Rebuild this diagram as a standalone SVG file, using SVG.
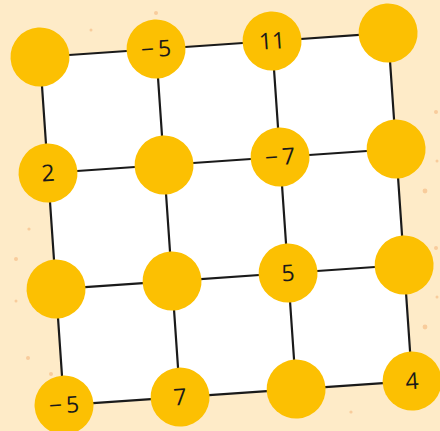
<svg xmlns="http://www.w3.org/2000/svg" width="440" height="431" viewBox="0 0 440 431">
<style>
.bg{fill:#FEEBC8}
.dot{fill:#F8CC9C}
.edge{stroke:#1A1A1A;stroke-width:2.2;stroke-linecap:round}
.node circle{fill:#FCC002}
.node text{font-family:"Open Sans","Noto Sans",sans-serif;font-size:23px;fill:#1A1A1A;text-anchor:middle}
</style>
<rect class="bg" x="0" y="0" width="440" height="431"/>
<g id="speckles">
<circle class="dot" cx="156" cy="13" r="2"/>
<circle class="dot" cx="91" cy="30" r="1.5"/>
<circle class="dot" cx="29" cy="229" r="1.6"/>
<circle class="dot" cx="16" cy="259" r="2"/>
<circle class="dot" cx="16" cy="301" r="1.5"/>
<circle class="dot" cx="28" cy="358" r="2"/>
<circle class="dot" cx="51" cy="374" r="2"/>
<circle class="dot" cx="436" cy="112" r="2"/>
<circle class="dot" cx="437" cy="161" r="1.5"/>
<circle class="dot" cx="425" cy="191" r="2.4"/>
<circle class="dot" cx="436" cy="248" r="2"/>
<circle class="dot" cx="437" cy="297" r="1.5"/>
<circle class="dot" cx="425" cy="327" r="2.4"/>
<circle class="dot" cx="351" cy="412" r="1.6"/>
</g>
<g transform="rotate(-3.95 40 57)">
<rect x="40" y="57" width="348.9" height="348.9" fill="#FFFFFF"/>
<g id="connectors">
<line class="edge" x1="40" y1="57" x2="156.3" y2="57"/>
<line class="edge" x1="156.3" y1="57" x2="272.6" y2="57"/>
<line class="edge" x1="272.6" y1="57" x2="388.9" y2="57"/>
<line class="edge" x1="40" y1="173.3" x2="156.3" y2="173.3"/>
<line class="edge" x1="156.3" y1="173.3" x2="272.6" y2="173.3"/>
<line class="edge" x1="272.6" y1="173.3" x2="388.9" y2="173.3"/>
<line class="edge" x1="40" y1="289.6" x2="156.3" y2="289.6"/>
<line class="edge" x1="156.3" y1="289.6" x2="272.6" y2="289.6"/>
<line class="edge" x1="272.6" y1="289.6" x2="388.9" y2="289.6"/>
<line class="edge" x1="40" y1="405.9" x2="156.3" y2="405.9"/>
<line class="edge" x1="156.3" y1="405.9" x2="272.6" y2="405.9"/>
<line class="edge" x1="272.6" y1="405.9" x2="388.9" y2="405.9"/>
<line class="edge" x1="40" y1="57" x2="40" y2="173.3"/>
<line class="edge" x1="40" y1="173.3" x2="40" y2="289.6"/>
<line class="edge" x1="40" y1="289.6" x2="40" y2="405.9"/>
<line class="edge" x1="156.3" y1="57" x2="156.3" y2="173.3"/>
<line class="edge" x1="156.3" y1="173.3" x2="156.3" y2="289.6"/>
<line class="edge" x1="156.3" y1="289.6" x2="156.3" y2="405.9"/>
<line class="edge" x1="272.6" y1="57" x2="272.6" y2="173.3"/>
<line class="edge" x1="272.6" y1="173.3" x2="272.6" y2="289.6"/>
<line class="edge" x1="272.6" y1="289.6" x2="272.6" y2="405.9"/>
<line class="edge" x1="388.9" y1="57" x2="388.9" y2="173.3"/>
<line class="edge" x1="388.9" y1="173.3" x2="388.9" y2="289.6"/>
<line class="edge" x1="388.9" y1="289.6" x2="388.9" y2="405.9"/>
</g>
<g id="n00" class="node"><circle cx="40" cy="57" r="29.5"/></g>
<g id="n01" class="node"><circle cx="156.3" cy="57" r="29.5"/><text x="156.3" y="65">−<tspan dx="4">5</tspan></text></g>
<g id="n02" class="node"><circle cx="272.6" cy="57" r="29.5"/><text x="272.6" y="65">11</text></g>
<g id="n03" class="node"><circle cx="388.9" cy="57" r="29.5"/></g>
<g id="n10" class="node"><circle cx="40" cy="173.3" r="29.5"/><text x="40" y="181.3">2</text></g>
<g id="n11" class="node"><circle cx="156.3" cy="173.3" r="29.5"/></g>
<g id="n12" class="node"><circle cx="272.6" cy="173.3" r="29.5"/><text x="272.6" y="181.3">−<tspan dx="4">7</tspan></text></g>
<g id="n13" class="node"><circle cx="388.9" cy="173.3" r="29.5"/></g>
<g id="n20" class="node"><circle cx="40" cy="289.6" r="29.5"/></g>
<g id="n21" class="node"><circle cx="156.3" cy="289.6" r="29.5"/></g>
<g id="n22" class="node"><circle cx="272.6" cy="289.6" r="29.5"/><text x="272.6" y="297.6">5</text></g>
<g id="n23" class="node"><circle cx="388.9" cy="289.6" r="29.5"/></g>
<g id="n30" class="node"><circle cx="40" cy="405.9" r="29.5"/><text x="40" y="413.9">−<tspan dx="4">5</tspan></text></g>
<g id="n31" class="node"><circle cx="156.3" cy="405.9" r="29.5"/><text x="156.3" y="413.9">7</text></g>
<g id="n32" class="node"><circle cx="272.6" cy="405.9" r="29.5"/></g>
<g id="n33" class="node"><circle cx="388.9" cy="405.9" r="29.5"/><text x="388.9" y="413.9">4</text></g>
</g>
</svg>
